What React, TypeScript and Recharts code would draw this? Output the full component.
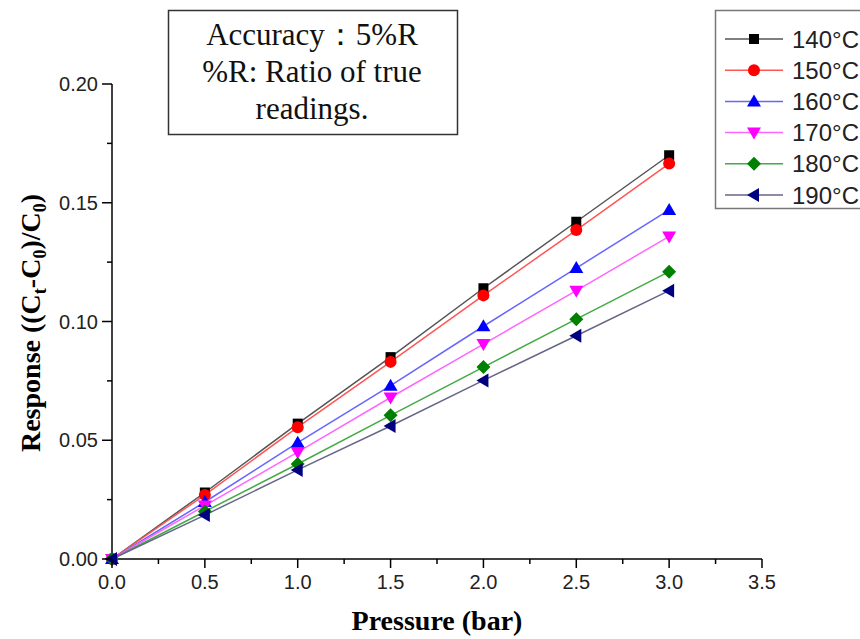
import { Line, LineChart, XAxis, YAxis } from 'recharts';

// 压力 (bar)
const pressure = [0, 0.5, 1.0, 1.5, 2.0, 2.5, 3.0];

// 各温度下的响应值 (Ct-C0)/C0
const r140 = [0, 0.028, 0.057, 0.085, 0.114, 0.142, 0.170];
const r150 = [0, 0.027, 0.0555, 0.083, 0.111, 0.1385, 0.1665];
const r160 = [0, 0.024, 0.049, 0.073, 0.098, 0.1225, 0.147];
const r170 = [0, 0.0225, 0.045, 0.068, 0.0905, 0.113, 0.1358];
const r180 = [0, 0.020, 0.040, 0.0605, 0.0808, 0.101, 0.121];
const r190 = [0, 0.0185, 0.0375, 0.056, 0.0752, 0.094, 0.113];

const temps = ['140°C', '150°C', '160°C', '170°C', '180°C', '190°C'];

const xTicks = [0, 0.25, 0.5, 0.75, 1, 1.25, 1.5, 1.75, 2, 2.25, 2.5, 2.75, 3, 3.25, 3.5];
const yTicks = [0, 0.025, 0.05, 0.075, 0.1, 0.125, 0.15, 0.175, 0.2];

type Kind = 'square' | 'circle' | 'up' | 'down' | 'diamond' | 'left';

const series: { key: string; name: string; values: number[]; kind: Kind; line: string; fill: string }[] = [
  { key: 't140', name: temps[0], values: r140, kind: 'square', line: '#555', fill: '#000' },
  { key: 't150', name: temps[1], values: r150, kind: 'circle', line: '#f55', fill: '#f00' },
  { key: 't160', name: temps[2], values: r160, kind: 'up', line: '#66f', fill: '#00f' },
  { key: 't170', name: temps[3], values: r170, kind: 'down', line: '#f6f', fill: '#f0f' },
  { key: 't180', name: temps[4], values: r180, kind: 'diamond', line: '#4a4', fill: '#008000' },
  { key: 't190', name: temps[5], values: r190, kind: 'left', line: '#668', fill: '#000080' },
];

const data = pressure.map((p, i) => {
  const row: Record<string, number> = { p };
  series.forEach((s) => (row[s.key] = s.values[i]));
  return row;
});

const SANS = '"Liberation Sans", Arial, sans-serif';
const SERIF = '"Liberation Serif", "Times New Roman", serif';

function Marker({ kind, cx, cy, color }: { kind: Kind; cx: number; cy: number; color: string }) {
  if (cx == null || cy == null) return null;
  switch (kind) {
    case 'square':
      return <rect x={cx - 5} y={cy - 5} width={10} height={10} fill={color} />;
    case 'circle':
      return <circle cx={cx} cy={cy} r={6} fill={color} />;
    case 'up':
      return <polygon points={`${cx},${cy - 7} ${cx - 7},${cy + 5} ${cx + 7},${cy + 5}`} fill={color} />;
    case 'down':
      return <polygon points={`${cx},${cy + 7} ${cx - 7},${cy - 5} ${cx + 7},${cy - 5}`} fill={color} />;
    case 'diamond':
      return <polygon points={`${cx},${cy - 7} ${cx + 7},${cy} ${cx},${cy + 7} ${cx - 7},${cy}`} fill={color} />;
    default:
      return <polygon points={`${cx - 7},${cy} ${cx + 5},${cy - 7} ${cx + 5},${cy + 7}`} fill={color} />;
  }
}

function XTick(props: any) {
  const { x, y, payload } = props;
  const v = payload.value as number;
  const major = Math.abs(v * 2 - Math.round(v * 2)) < 1e-6;
  return (
    <g>
      <line x1={x} x2={x} y1={y} y2={y + (major ? 9 : 5)} stroke="#000" strokeWidth={1.5} />
      {major && (
        <text x={x} y={y + 30} textAnchor="middle" fontFamily={SANS} fontSize={20} fill="#222">
          {v.toFixed(1)}
        </text>
      )}
    </g>
  );
}

function YTick(props: any) {
  const { x, y, payload, index } = props;
  const v = payload.value as number;
  const major = index % 2 === 0;
  return (
    <g>
      <line x1={x} x2={x - (major ? 10 : 5)} y1={y} y2={y} stroke="#000" strokeWidth={1.5} />
      {major && (
        <text x={x - 14} y={y + 7} textAnchor="end" fontFamily={SANS} fontSize={20} fill="#222">
          {v.toFixed(2)}
        </text>
      )}
    </g>
  );
}

export default function App() {
  return (
    <div style={{ position: 'relative', width: 860, height: 639, background: '#fff', overflow: 'hidden' }}>
      <style>{'body{margin:0}'}</style>
      <LineChart width={860} height={639} data={data} margin={{ top: 84, right: 98, bottom: 0, left: 0 }}>
        <XAxis
          dataKey="p"
          type="number"
          domain={[0, 3.5]}
          ticks={xTicks}
          interval={0}
          height={80}
          tickSize={0}
          tickMargin={0}
          tickLine={false}
          axisLine={{ stroke: '#000', strokeWidth: 1.5 }}
          tick={(p: any) => <XTick {...p} />}
        />
        <YAxis
          type="number"
          domain={[0, 0.2]}
          ticks={yTicks}
          interval={0}
          width={112}
          tickSize={0}
          tickMargin={0}
          tickLine={false}
          axisLine={{ stroke: '#000', strokeWidth: 1.5 }}
          tick={(p: any) => <YTick {...p} />}
        />
        {series.map((s) => (
          <Line
            key={s.key}
            dataKey={s.key}
            name={s.name}
            type="linear"
            stroke={s.line}
            strokeWidth={1.5}
            isAnimationActive={false}
            dot={(d: any) => <Marker key={`${s.key}-${d.index}`} kind={s.kind} cx={d.cx} cy={d.cy} color={s.fill} />}
            activeDot={false}
          />
        ))}
      </LineChart>

      {/* axis titles */}
      <svg width={860} height={639} style={{ position: 'absolute', left: 0, top: 0, pointerEvents: 'none' }}>
        <text
          transform="translate(40,323) rotate(-90)"
          textAnchor="middle"
          fontFamily={SERIF}
          fontWeight="bold"
          fontSize={28}
          fill="#000"
        >
          Response ((C<tspan fontSize={18} dy={6}>t</tspan>
          <tspan dy={-6}>-C</tspan>
          <tspan fontSize={18} dy={6}>0</tspan>
          <tspan dy={-6}>)/C</tspan>
          <tspan fontSize={18} dy={6}>0</tspan>
          <tspan dy={-6}>)</tspan>
        </text>
        <text x={437} y={630} textAnchor="middle" fontFamily={SERIF} fontWeight="bold" fontSize={28} fill="#000">
          Pressure (bar)
        </text>

        {/* legend */}
        <rect x={715.5} y={10.5} width={160} height={198} fill="#fff" stroke="#777" strokeWidth={1.5} />
        {series.map((s, i) => {
          const cy = 39 + i * 31.2;
          return (
            <g key={s.key}>
              <line x1={725} x2={783} y1={cy} y2={cy} stroke={s.line} strokeWidth={1.5} />
              <Marker kind={s.kind} cx={754} cy={cy} color={s.fill} />
              <text x={792} y={cy + 8.5} fontFamily={SANS} fontSize={24} fill="#222">
                {s.name}
              </text>
            </g>
          );
        })}

        {/* annotation */}
        <rect x={168.5} y={10.5} width={289} height={124} fill="#fff" stroke="#333" strokeWidth={1.5} />
        <g fontFamily={SERIF} fontSize={31} fill="#111" textAnchor="middle">
          <text x={312} y={45}>Accuracy：5%R</text>
          <text x={312} y={82}>%R: Ratio of true</text>
          <text x={312} y={119}>readings.</text>
        </g>
      </svg>
    </div>
  );
}
